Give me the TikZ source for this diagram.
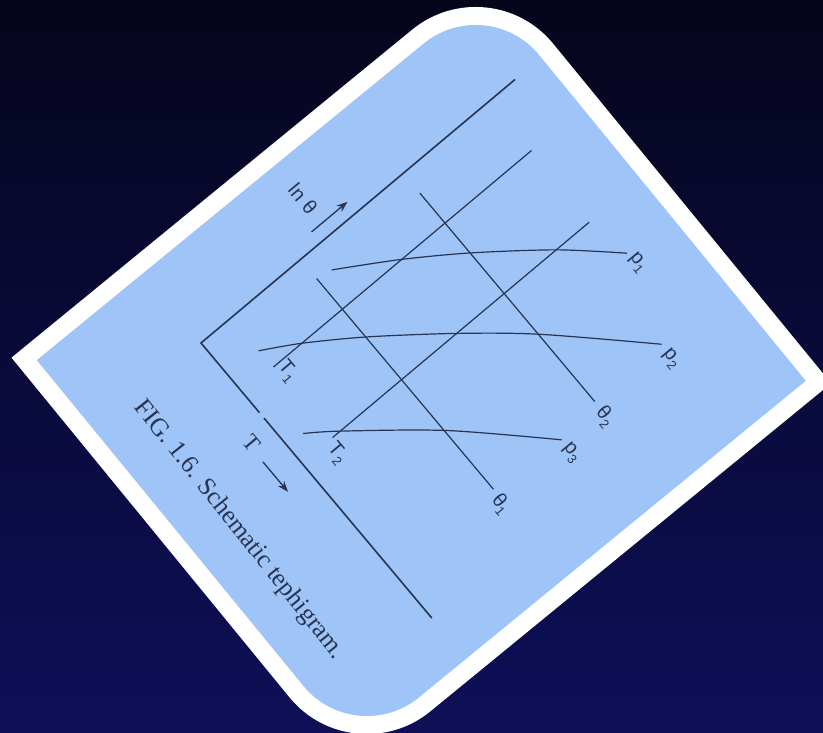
\documentclass[tikz,border=0pt]{standalone}
\usepackage{fontspec}
\usepackage{tikz}
\usetikzlibrary{arrows.meta}
\newfontfamily\capfont{Liberation Serif}
\newfontfamily\labfont{Liberation Sans}
\definecolor{ink}{RGB}{40,52,82}
\definecolor{cardblue}{RGB}{158,196,248}
\definecolor{bgtop}{RGB}{5,5,28}
\definecolor{bgbot}{RGB}{14,15,88}
\newcommand{\lab}[2]{#1\raisebox{-5pt}{\fontsize{13}{13}\selectfont #2}}

\begin{document}
\begin{tikzpicture}[x=1pt, y=1pt, >={Stealth[length=11pt,width=8pt]},
    isoline/.style={ink, line width=1.2pt},
    axisline/.style={ink, line width=1.6pt},
    curvelabel/.style={ink, font=\labfont\fontsize{20}{20}\selectfont, inner sep=0pt}]
    \useasboundingbox (0,0) rectangle (823,733);
    \clip (0,0) rectangle (823,733);
    \shade[top color=bgtop, bottom color=bgbot] (0,0) rectangle (823,733);

    % the card, two corners rounded
    \begin{scope}[shift={(421.3,362.5)}, rotate=-50.7]
        \fill[white] (-269.5,-309) -- (-269.5,209) arc[start angle=180, end angle=90, radius=100pt]
            -- (269.5,309) -- (269.5,-209) arc[start angle=0, end angle=-90, radius=100pt] -- cycle;
        \fill[cardblue] (-251.5,-291) -- (-251.5,209) arc[start angle=180, end angle=90, radius=82pt]
            -- (251.5,291) -- (251.5,-209) arc[start angle=0, end angle=-90, radius=82pt] -- cycle;
    \end{scope}

    \begin{scope}[shift={(201,390)}, rotate=-50, transform shape]
        % axes
        \draw[axisline] (0,410) -- (0,0) -- (91,0);
        \draw[axisline] (98,0) -- (359,0);
        % isotherms and dry adiabats
        \draw[isoline] (65,40) -- (65,377);
        \draw[isoline] (157,40) -- (157,375);
        \draw[isoline] (25,130) -- (300,130);
        \draw[isoline] (26,264) -- (298,264);
        % isobars
        \draw[isoline] plot[smooth] coordinates {(28,147) (64,206) (104,264) (157,332) (205,384)};
        \draw[isoline] plot[smooth] coordinates {(43,39) (65,77) (102,131) (157,202) (211,265) (297,352)};
        \draw[isoline] plot[smooth] coordinates {(135,20) (157,50) (225,132) (306,214)};

        \node[curvelabel] (p1) at (219,386) {\lab{p}{1}};
        \node[curvelabel] (p2) at (314,350) {\lab{p}{2}};
        \node[curvelabel] (p3) at (322,213) {\lab{p}{3}};
        \node[curvelabel] (th1) at (316,126) {\lab{θ}{1}};
        \node[curvelabel] (th2) at (316,262) {\lab{θ}{2}};
        \node[curvelabel] (T1) at (77,48) {\lab{T}{1}};
        \node[curvelabel] (T2) at (172,33) {\lab{T}{2}};

        \node[curvelabel] (lnth) at (-45,171) {ln\hspace{6pt}θ};
        \coordinate (lnA) at (-14,156);
        \coordinate (lnB) at (-14,203);
        \draw[->, ink, line width=1.3pt] (lnA) -- (lnB);

        \node[ink, font=\capfont\fontsize{23}{23}\selectfont, inner sep=0pt] (Tax) at (109,-25) {T};
        \coordinate (TA) at (131,-29);
        \coordinate (TB) at (170,-29);
        \draw[->, ink, line width=1.3pt] (TA) -- (TB);

        \node[ink, font=\capfont\fontsize{25.5}{25.5}\selectfont, anchor=base west, inner sep=0pt,
            rotate=-1.5] (caption) at (6,-93) {FIG. 1.6. Schematic tephigram.};
    \end{scope}
\end{tikzpicture}
\end{document}
